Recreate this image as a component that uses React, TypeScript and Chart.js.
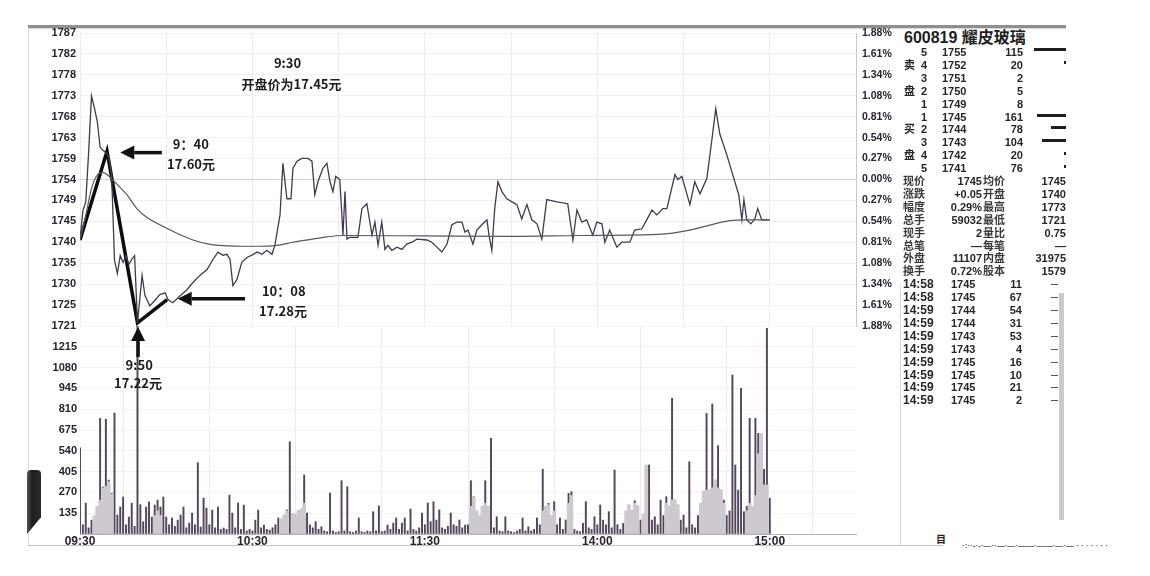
import React, { useEffect, useRef } from 'react';
import { Chart, registerables } from 'chart.js';

Chart.register(...registerables);

// ---------------- data ----------------
const gridMinutes = [0, 30, 60, 90, 120, 150, 180, 210, 240, 270];
const timeLabelMinutes = [0, 60, 120, 180, 240];
const timeLabels = ['09:30', '10:30', '11:30', '14:00', '15:00'];

// top -> bottom
const priceAxisLabels = ['1787', '1782', '1778', '1773', '1768', '1763', '1759', '1754', '1749', '1745', '1740', '1735', '1730', '1725', '1721'];
const percentAxisLabels = ['1.88%', '1.61%', '1.34%', '1.08%', '0.81%', '0.54%', '0.27%', '0.00%', '0.27%', '0.54%', '0.81%', '1.08%', '1.34%', '1.61%', '1.88%'];
const volumeAxisLabels = ['', '1215', '1080', '945', '810', '675', '540', '405', '270', '135', ''];

const PRICE_LOW = 17.213;
const PRICE_HIGH = 17.867;
const VOLUME_HIGH = 1350;
const SESSION_SPAN = 270;

// [minute from 09:30, price]
const priceLine: [number, number][] = [
  [0, 17.405], [1, 17.47], [2, 17.49], [3, 17.6], [4, 17.727], [5, 17.7], [6, 17.67], [7, 17.612], [8, 17.605], [9, 17.6],
  [10, 17.59], [11, 17.55], [12, 17.36], [13, 17.33], [14, 17.37], [15, 17.355], [16, 17.37], [17, 17.35], [18, 17.362], [19, 17.37],
  [20, 17.22], [21.6, 17.326], [22.6, 17.281], [24.3, 17.258], [26, 17.27], [27.8, 17.283], [29.6, 17.287], [30.6, 17.272], [32.3, 17.265], [34.1, 17.276],
  [37.2, 17.294], [39.3, 17.31], [41.7, 17.326], [44.2, 17.339], [46.3, 17.362], [48, 17.378], [49.7, 17.371], [51.1, 17.373], [52.2, 17.362], [53.2, 17.303],
  [54.6, 17.317], [56.3, 17.355], [58.1, 17.366], [59.8, 17.371], [61.6, 17.378], [63.3, 17.373], [65, 17.382], [66.8, 17.373], [67.8, 17.393], [69.6, 17.461],
  [70.6, 17.576], [72, 17.497], [73.4, 17.497], [74.1, 17.565], [75.5, 17.581], [77.2, 17.587], [79.3, 17.587], [80.7, 17.581], [81.7, 17.506], [82.8, 17.535],
  [84.5, 17.565], [85.9, 17.576], [87, 17.535], [88, 17.513], [89, 17.547], [90.4, 17.54], [91.5, 17.416], [92.2, 17.513], [92.9, 17.407], [93.9, 17.411],
  [96.7, 17.411], [98.1, 17.475], [99.8, 17.486], [101.6, 17.416], [102.6, 17.445], [103.7, 17.393], [105, 17.445], [106.1, 17.384], [107.1, 17.393], [108.5, 17.382],
  [110.3, 17.389], [112, 17.384], [113.7, 17.396], [115.5, 17.4], [117.2, 17.407], [120.7, 17.405], [122.4, 17.4], [124.2, 17.389], [125.9, 17.378], [127.7, 17.396],
  [129.4, 17.439], [131.1, 17.445], [132.9, 17.445], [133.9, 17.423], [135, 17.427], [136.7, 17.396], [138.1, 17.427], [139.8, 17.439], [141.6, 17.45], [142.3, 17.416],
  [143.3, 17.382], [144.3, 17.475], [145.4, 17.535], [146.8, 17.513], [148.5, 17.497], [150.3, 17.49], [152, 17.484], [153.7, 17.452], [155.5, 17.484], [157.2, 17.45],
  [159, 17.441], [160.7, 17.407], [162.4, 17.495], [165.9, 17.49], [169.7, 17.486], [171.5, 17.405], [172.9, 17.472], [174.6, 17.445], [176.3, 17.45], [178.4, 17.416],
  [179.8, 17.445], [181.6, 17.441], [182.6, 17.4], [184.3, 17.427], [186.8, 17.389], [188.5, 17.4], [191.3, 17.4], [193, 17.427], [195.5, 17.43], [197.2, 17.45],
  [199, 17.472], [200.7, 17.461], [202.8, 17.475], [204.2, 17.475], [207, 17.551], [208, 17.54], [209.4, 17.547], [212.2, 17.484], [213.9, 17.535], [215.7, 17.508],
  [218.1, 17.542], [219.8, 17.626], [221.2, 17.698], [222.6, 17.642], [225, 17.596], [227.1, 17.551], [229.2, 17.506], [230.3, 17.45], [231, 17.495], [232, 17.45],
  [233.4, 17.441], [234.8, 17.452], [235.8, 17.475], [237.2, 17.45], [238.9, 17.45], [240, 17.45],
];

const averageLine: [number, number][] = [
  [0, 17.405], [2, 17.46], [4, 17.52], [6, 17.55], [8, 17.556], [10, 17.548], [12, 17.535], [14, 17.522], [16.3, 17.506], [19.8, 17.475],
  [23.3, 17.455], [27.8, 17.439], [33.7, 17.42], [39.3, 17.405], [45.2, 17.395], [51.1, 17.392], [56.7, 17.391], [62.6, 17.391], [68.5, 17.393], [74.1, 17.4],
  [80, 17.406], [85.9, 17.412], [91.5, 17.415], [120, 17.414], [150, 17.413], [174, 17.415], [202.8, 17.418], [212.2, 17.427], [220.2, 17.44], [226.1, 17.448],
  [232, 17.45], [240, 17.45],
];

// hand-drawn marker path: open -> 9:40 high -> 9:50 low -> 10:08
const markerPath: [number, number][] = [[0, 17.405], [9.4, 17.603], [20, 17.22], [30.3, 17.272]];

// per-minute volume, 09:30 .. 15:00
const volumes = [
  560, 60, 200, 40, 90, 60, 100, 750, 305, 745,
  350, 266, 785, 123, 175, 240, 60, 110, 200, 50,
  1350, 190, 80, 175, 208, 110, 188, 220, 175, 240,
  110, 60, 104, 50, 90, 123, 175, 40, 71, 136,
  60, 463, 45, 233, 168, 60, 155, 40, 175, 30,
  39, 30, 253, 136, 40, 201, 30, 188, 20, 30,
  20, 90, 155, 40, 58, 30, 25, 40, 60, 104,
  80, 120, 156, 599, 130, 123, 150, 162, 383, 136,
  60, 40, 80, 30, 47, 20, 15, 266, 20, 10,
  15, 346, 20, 307, 15, 10, 20, 104, 15, 10,
  20, 15, 145, 20, 182, 15, 20, 58, 30, 71,
  104, 30, 71, 104, 20, 162, 30, 20, 40, 136,
  60, 201, 80, 210, 90, 156, 40, 30, 50, 136,
  60, 50, 91, 40, 58, 60, 346, 242, 60, 90,
  177, 346, 177, 621, 40, 112, 20, 15, 112, 20,
  15, 10, 20, 30, 104, 20, 47, 20, 30, 104,
  60, 420, 177, 199, 90, 210, 60, 104, 30, 91,
  264, 275, 30, 20, 15, 69, 210, 40, 30, 112,
  60, 188, 90, 60, 145, 40, 415, 60, 30, 69,
  120, 188, 150, 216, 182, 90, 120, 150, 448, 90,
  112, 60, 220, 120, 242, 180, 881, 220, 188, 90,
  123, 40, 469, 60, 40, 120, 199, 200, 783, 285,
  844, 350, 573, 285, 220, 120, 150, 1032, 448, 285,
  945, 145, 180, 751, 145, 751, 653, 200, 420, 1335,
  232,
];

// lighter shaded volume clusters [minute, volume]
const volumeShade: [number, number][] = [
  [5, 120], [6, 180], [7, 220], [8, 300], [9, 310], [10, 340], [11, 260], [26, 120], [27, 150], [28, 120],
  [70, 100], [71, 120], [72, 150], [74, 130], [75, 120], [76, 150], [77, 160], [78, 200],
  [136, 180], [137, 240], [138, 150], [139, 120], [140, 177], [141, 200], [142, 177],
  [161, 150], [162, 177], [163, 190], [164, 120], [165, 150], [170, 200], [171, 250],
  [190, 150], [191, 188], [192, 150], [193, 200], [194, 180], [196, 130], [197, 448],
  [204, 200], [205, 180], [206, 220], [207, 220], [208, 188], [216, 200], [217, 280], [218, 285], [219, 285],
  [220, 300], [221, 350], [222, 300], [223, 285], [224, 200], [232, 150], [233, 200], [234, 180], [235, 250],
  [236, 520], [237, 653], [238, 318], [239, 318],
];

// annotations in data units
const priceArrows = [
  { tip: [14, 17.6], tail: [28.5, 17.6] },
  { tip: [34, 17.274], tail: [57.4, 17.274] },
];
const priceNotes = [
  { at: [72.2, 17.799], text: '9:30', align: 'center' },
  { at: [73.6, 17.754], text: '开盘价为17.45元', align: 'center' },
  { at: [32.3, 17.619], text: '9：40', align: 'left' },
  { at: [30.3, 17.574], text: '17.60元', align: 'left' },
  { at: [63.3, 17.292], text: '10：08', align: 'left' },
  { at: [62.3, 17.247], text: '17.28元', align: 'left' },
];
const volumeArrows = [{ tip: [20.2, 1343], tail: [20.2, 1149] }];
const volumeNotes = [
  { at: [20.6, 1097], text: '9:50', align: 'center' },
  { at: [20.2, 980], text: '17.22元', align: 'center' },
];

// quote panel
const stockTitle = '600819 耀皮玻璃';
const askRows = [['5', '1755', '115'], ['4', '1752', '20'], ['3', '1751', '2'], ['2', '1750', '5'], ['1', '1749', '8']];
const bidRows = [['1', '1745', '161'], ['2', '1744', '78'], ['3', '1743', '104'], ['4', '1742', '20'], ['5', '1741', '76']];
const askSide = ['', '卖', '', '盘', ''];
const bidSide = ['', '买', '', '盘', ''];
const askBarLen = [32, 2, 0, 0, 0];
const bidBarLen = [29, 15, 24, 2, 2];
const statRows = [
  ['现价', '1745', '均价', '1745'],
  ['涨跌', '+0.05', '开盘', '1740'],
  ['幅度', '0.29%', '最高', '1773'],
  ['总手', '59032', '最低', '1721'],
  ['现手', '2', '量比', '0.75'],
  ['总笔', '—', '每笔', '—'],
  ['外盘', '11107', '内盘', '31975'],
  ['换手', '0.72%', '股本', '1579'],
];
const tradeRows = [
  ['14:58', '1745', '11'], ['14:58', '1745', '67'], ['14:59', '1744', '54'], ['14:59', '1744', '31'], ['14:59', '1743', '53'],
  ['14:59', '1743', '4'], ['14:59', '1745', '16'], ['14:59', '1745', '10'], ['14:59', '1745', '21'], ['14:59', '1745', '2'],
];

// ---------------- helpers ----------------
const AXIS_FONT = "'Liberation Sans', 'DejaVu Sans', sans-serif";
const NOTE_FONT = "'Noto Sans CJK SC', 'Liberation Sans', sans-serif";
const PANEL_FONT = "'Liberation Sans', 'Noto Sans CJK SC', sans-serif";
const INK = '#2b2330';

const evenTicks = (lo: number, hi: number, n: number) =>
  Array.from({ length: n }, (_, i) => ({ value: lo + ((hi - lo) * i) / (n - 1) }));

const noScalePadding = (s: any) => {
  s.paddingTop = 0;
  s.paddingBottom = 0;
  s.paddingLeft = 0;
  s.paddingRight = 0;
};

function makeNotesPlugin(arrows: any[], notes: any[], yId: string) {
  return {
    id: 'notes-' + yId,
    afterDatasetsDraw(chart: any) {
      const ctx = chart.ctx;
      const xs = chart.scales.x;
      const ys = chart.scales[yId];
      ctx.save();
      ctx.fillStyle = '#111';
      ctx.strokeStyle = '#111';
      for (const a of arrows) {
        const tx = xs.getPixelForValue(a.tip[0]);
        const ty = ys.getPixelForValue(a.tip[1]);
        const sx = xs.getPixelForValue(a.tail[0]);
        const sy = ys.getPixelForValue(a.tail[1]);
        const len = Math.hypot(tx - sx, ty - sy) || 1;
        const dx = (tx - sx) / len;
        const dy = (ty - sy) / len;
        const L = 14;
        const W = 7;
        const bx = tx - dx * L;
        const by = ty - dy * L;
        ctx.lineWidth = 3.5;
        ctx.beginPath();
        ctx.moveTo(sx, sy);
        ctx.lineTo(bx, by);
        ctx.stroke();
        ctx.beginPath();
        ctx.moveTo(tx, ty);
        ctx.lineTo(bx - dy * W, by + dx * W);
        ctx.lineTo(bx + dy * W, by - dx * W);
        ctx.closePath();
        ctx.fill();
      }
      ctx.font = `bold 13px ${NOTE_FONT}`;
      ctx.textBaseline = 'middle';
      ctx.fillStyle = '#1c1c1c';
      for (const n of notes) {
        ctx.textAlign = n.align;
        ctx.fillText(n.text, xs.getPixelForValue(n.at[0]), ys.getPixelForValue(n.at[1]));
      }
      ctx.restore();
    },
  };
}

const xGrid = {
  color: '#ebebeb',
  drawTicks: false,
};

function priceConfig(): any {
  return {
    type: 'line',
    data: {
      datasets: [
        {
          data: averageLine.map(([x, y]) => ({ x, y })),
          borderColor: '#5c5660',
          borderWidth: 1.2,
          pointRadius: 0,
          cubicInterpolationMode: 'monotone',
        },
        {
          data: priceLine.map(([x, y]) => ({ x, y })),
          borderColor: '#453850',
          borderWidth: 1.3,
          pointRadius: 0,
          tension: 0,
        },
        {
          data: markerPath.map(([x, y]) => ({ x, y })),
          borderColor: '#0d0d0d',
          borderWidth: 3.5,
          pointRadius: 0,
          tension: 0,
        },
      ],
    },
    options: {
      responsive: false,
      animation: false,
      maintainAspectRatio: false,
      layout: { padding: { top: 6, bottom: 6, left: 0, right: 0 } },
      plugins: { legend: { display: false }, tooltip: { enabled: false } },
      scales: {
        x: {
          type: 'linear',
          min: 0,
          max: SESSION_SPAN,
          afterBuildTicks: (s: any) => { s.ticks = gridMinutes.map((v) => ({ value: v })); },
          afterFit: (s: any) => { s.height = 0; noScalePadding(s); },
          ticks: { display: false },
          grid: xGrid,
          border: { display: false },
        },
        y: {
          position: 'left',
          min: PRICE_LOW,
          max: PRICE_HIGH,
          afterBuildTicks: (s: any) => { s.ticks = evenTicks(PRICE_LOW, PRICE_HIGH, priceAxisLabels.length); },
          afterFit: (s: any) => { s.width = 52; noScalePadding(s); },
          ticks: {
            autoSkip: false,
            padding: 4,
            color: INK,
            font: { family: AXIS_FONT, size: 11, weight: 'bold' },
            callback: (_v: any, i: number) => priceAxisLabels[priceAxisLabels.length - 1 - i],
          },
          grid: {
            drawTicks: false,
            color: (c: any) => (c.index === 0 ? '#c4c4c4' : c.index === 7 ? '#d2d2d2' : '#f1f1f1'),
          },
          border: { display: false },
        },
        yr: {
          position: 'right',
          min: PRICE_LOW,
          max: PRICE_HIGH,
          afterBuildTicks: (s: any) => { s.ticks = evenTicks(PRICE_LOW, PRICE_HIGH, percentAxisLabels.length); },
          afterFit: (s: any) => { s.width = 44; noScalePadding(s); },
          ticks: {
            autoSkip: false,
            padding: 6,
            color: INK,
            font: { family: AXIS_FONT, size: 10.5, weight: 'bold' },
            callback: (_v: any, i: number) => percentAxisLabels[percentAxisLabels.length - 1 - i],
          },
          grid: { display: false, drawTicks: false },
          border: { display: true, color: '#c8c8c8' },
        },
      },
    },
    plugins: [makeNotesPlugin(priceArrows, priceNotes, 'y')],
  };
}

function volumeConfig(): any {
  return {
    type: 'bar',
    data: {
      datasets: [
        {
          data: volumeShade.map(([x, y]) => ({ x, y })),
          backgroundColor: '#cdc9cf',
          barThickness: 3,
          grouped: false,
        },
        {
          data: volumes.map((y, x) => ({ x, y })),
          backgroundColor: '#54475b',
          barThickness: 1.3,
          grouped: false,
        },
      ],
    },
    options: {
      responsive: false,
      animation: false,
      maintainAspectRatio: false,
      layout: { padding: { top: 6, bottom: 4, left: 0, right: 44 } },
      plugins: { legend: { display: false }, tooltip: { enabled: false } },
      scales: {
        x: {
          type: 'linear',
          min: 0,
          max: SESSION_SPAN,
          offset: false,
          afterBuildTicks: (s: any) => { s.ticks = gridMinutes.map((v) => ({ value: v })); },
          afterFit: (s: any) => { s.height = 14; noScalePadding(s); },
          ticks: {
            autoSkip: false,
            maxRotation: 0,
            padding: 0,
            color: INK,
            font: { family: AXIS_FONT, size: 12, weight: 'bold' },
            callback: (v: any) => {
              const k = timeLabelMinutes.indexOf(Number(v));
              return k >= 0 ? timeLabels[k] : '';
            },
          },
          grid: xGrid,
          border: { display: true, color: '#b4b4b4' },
        },
        y: {
          position: 'left',
          min: 0,
          max: VOLUME_HIGH,
          afterBuildTicks: (s: any) => { s.ticks = evenTicks(0, VOLUME_HIGH, volumeAxisLabels.length); },
          afterFit: (s: any) => { s.width = 52; noScalePadding(s); },
          ticks: {
            autoSkip: false,
            padding: 3,
            color: INK,
            font: { family: AXIS_FONT, size: 11, weight: 'bold' },
            callback: (_v: any, i: number) => volumeAxisLabels[volumeAxisLabels.length - 1 - i],
          },
          grid: { drawTicks: false, color: '#f3f3f3' },
          border: { display: false },
        },
      },
    },
    plugins: [makeNotesPlugin(volumeArrows, volumeNotes, 'y')],
  };
}

// ---------------- components ----------------
function Txt(props: { x: number; y: number; text: string; size?: number; align?: 'left' | 'right'; weight?: number; color?: string; font?: string }) {
  const { x, y, text, size = 11, align = 'left', weight = 700, color = '#262626', font = PANEL_FONT } = props;
  const h = Math.round(size * 1.3);
  const style: React.CSSProperties = {
    position: 'absolute',
    top: y - h / 2,
    height: h,
    lineHeight: `${h}px`,
    fontSize: size,
    fontWeight: weight,
    fontFamily: font,
    color,
    whiteSpace: 'nowrap',
  };
  if (align === 'left') {
    style.left = x;
  } else {
    style.left = x - 300;
    style.width = 300;
    style.textAlign = 'right';
  }
  return <div style={style}>{text}</div>;
}

const rowY = (i: number) => 52 + i * 12.9;

function Box(props: { l: number; t: number; w: number; h: number; bg: string; extra?: React.CSSProperties }) {
  return (
    <div style={{ position: 'absolute', left: props.l, top: props.t, width: props.w, height: props.h, background: props.bg, ...(props.extra || {}) }} />
  );
}

function QuotePanel() {
  const items: React.ReactNode[] = [];
  items.push(<Txt key="title" x={904} y={37} text={stockTitle} size={16} weight={700} color="#1f1f1f" />);
  askRows.forEach((r, i) => {
    const y = rowY(i);
    items.push(<Txt key={'as' + i} x={904} y={y} text={askSide[i]} />);
    items.push(<Txt key={'an' + i} x={927} y={y} text={r[0]} align="right" />);
    items.push(<Txt key={'ap' + i} x={942} y={y} text={r[1]} />);
    items.push(<Txt key={'av' + i} x={1023} y={y} text={r[2]} align="right" />);
    if (askBarLen[i] > 0) items.push(<Box key={'ab' + i} l={1066 - askBarLen[i]} t={y - 4} w={askBarLen[i]} h={3} bg="#1e1e1e" />);
  });
  bidRows.forEach((r, j) => {
    const y = rowY(5 + j);
    items.push(<Txt key={'bs' + j} x={904} y={y} text={bidSide[j]} />);
    items.push(<Txt key={'bn' + j} x={927} y={y} text={r[0]} align="right" />);
    items.push(<Txt key={'bp' + j} x={942} y={y} text={r[1]} />);
    items.push(<Txt key={'bv' + j} x={1023} y={y} text={r[2]} align="right" />);
    if (bidBarLen[j] > 0) items.push(<Box key={'bb' + j} l={1066 - bidBarLen[j]} t={y - 3} w={bidBarLen[j]} h={3} bg="#1e1e1e" />);
  });
  statRows.forEach((r, k) => {
    const y = rowY(10 + k);
    items.push(<Txt key={'s0' + k} x={903} y={y} text={r[0]} color="#3a3a3a" />);
    items.push(<Txt key={'s1' + k} x={982} y={y} text={r[1]} align="right" />);
    items.push(<Txt key={'s2' + k} x={983} y={y} text={r[2]} color="#3a3a3a" />);
    items.push(<Txt key={'s3' + k} x={1066} y={y} text={r[3]} align="right" />);
  });
  tradeRows.forEach((r, k) => {
    const y = rowY(18 + k);
    items.push(<Txt key={'t0' + k} x={903} y={y} text={r[0]} size={12} />);
    items.push(<Txt key={'t1' + k} x={951} y={y} text={r[1]} />);
    items.push(<Txt key={'t2' + k} x={1022} y={y} text={r[2]} align="right" />);
    items.push(<Box key={'tm' + k} l={1051} t={y} w={7} h={1} bg="#555" />);
  });
  return <>{items}</>;
}

export default function App() {
  const priceRef = useRef<HTMLCanvasElement>(null);
  const volRef = useRef<HTMLCanvasElement>(null);

  useEffect(() => {
    const pc = new Chart(priceRef.current as HTMLCanvasElement, priceConfig());
    const vc = new Chart(volRef.current as HTMLCanvasElement, volumeConfig());
    return () => {
      pc.destroy();
      vc.destroy();
    };
  }, []);

  return (
    <div style={{ position: 'absolute', left: 0, top: 0, width: 1150, height: 576, background: '#ffffff', overflow: 'hidden' }}>
      {/* frame lines */}
      <Box l={28} t={25} w={1038} h={3} bg="#8f8f8f" />
      <Box l={28} t={28} w={1038} h={1} bg="#d9d9d9" />
      <Box l={28} t={28} w={1} h={518} bg="#dcdcdc" />
      <Box l={28} t={545} w={915} h={1} bg="#c2c2c2" />
      <Box l={900} t={285} w={1} h={260} bg="#dadada" />
      <Box l={1059} t={293} w={5} h={227} bg="#cbcbcb" />
      {/* left scroll thumb */}
      <Box l={27} t={470} w={14} h={64} bg="linear-gradient(90deg,#555 0%,#1f1f1f 35%,#2a2a2a 100%)"
        extra={{ borderRadius: '4px 4px 0 0', clipPath: 'polygon(0 0,100% 0,100% 74%,0 100%)' }} />

      <canvas ref={priceRef} width={872} height={305} style={{ position: 'absolute', left: 28, top: 27, width: 872, height: 305 }} />
      <canvas ref={volRef} width={872} height={232} style={{ position: 'absolute', left: 28, top: 320, width: 872, height: 232 }} />

      <QuotePanel />

      <Txt x={936} y={538} text="目" size={10} color="#222" font={NOTE_FONT} />
      <Txt x={962} y={546} text="·:··-·-·—··—·—·——·——·—·— · ·  ·  · · · ·" size={8} weight={700} color="#555" />
    </div>
  );
}
